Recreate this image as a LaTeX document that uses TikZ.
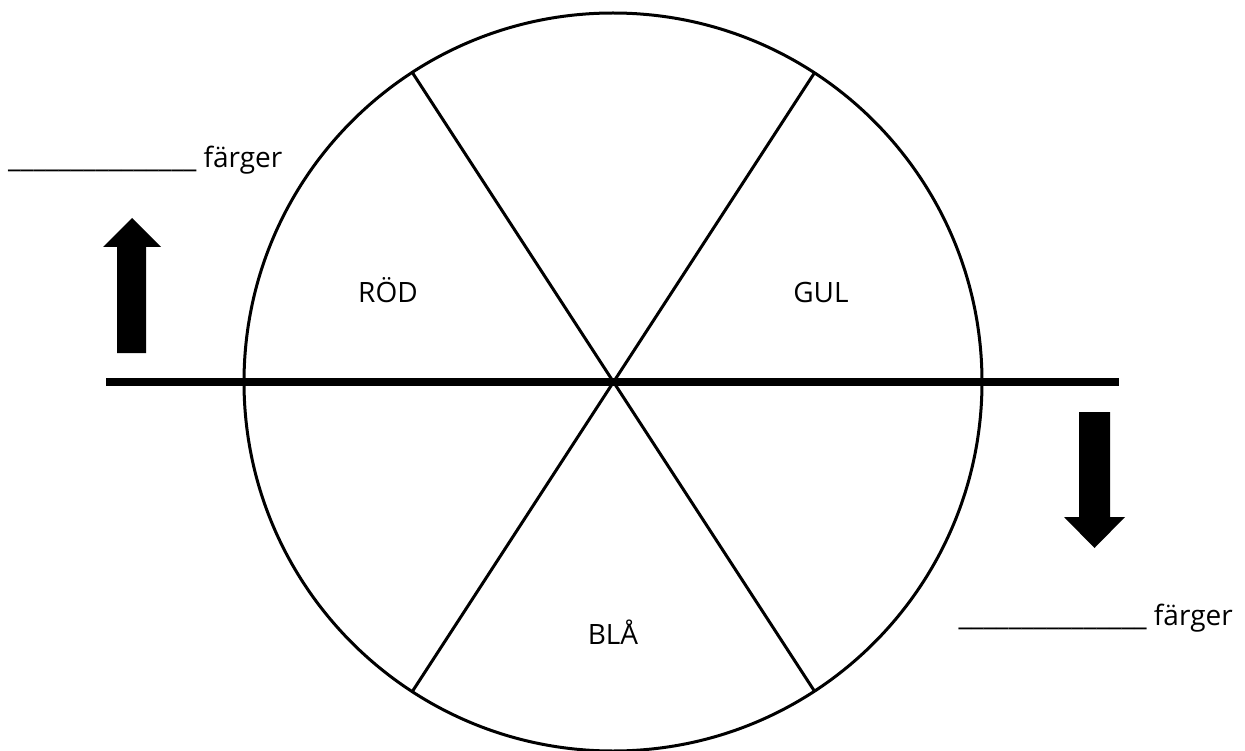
\documentclass[tikz,border=0pt]{standalone}
\usepackage{fontspec}
\setmainfont{Open Sans}
\begin{document}
\begin{tikzpicture}[x=1pt,y=-1pt,
  lbl/.style={font=\fontsize{28}{32}\selectfont, inner sep=0pt},
  thin line/.style={line width=3pt},
  thick line/.style={line width=8pt},
  blockarrow/.style={fill=black, draw=none}]
\useasboundingbox (0,0) rectangle (1245,751);
\coordinate (O) at (613,382);
\draw[thin line] (O) circle (369pt);
\coordinate (tl) at (412,72);
\coordinate (tr) at (815,72);
\coordinate (bl) at (412,692);
\coordinate (br) at (815,692);
\draw[thin line] (tl) -- (br);
\draw[thin line] (tr) -- (bl);
\coordinate (hl) at (106,382);
\coordinate (hr) at (1119,382);
\draw[thick line] (hl) -- (hr);
% up arrow
\fill[blockarrow] (117,353) -- (117,247) -- (103,247) -- (132,218) -- (161,247) -- (146,247) -- (146,353) -- cycle;
% down arrow
\fill[blockarrow] (1079,412) -- (1110,412) -- (1110,517) -- (1125,517) -- (1094.5,548) -- (1064,517) -- (1079,517) -- cycle;
\node[lbl, anchor=base] (rod) at (388,303) {RÖD};
\node[lbl, anchor=base] (gul) at (821,303) {GUL};
\node[lbl, anchor=base] (bla) at (613,644) {BLÅ};
\node[lbl, anchor=base west] (f1) at (8,168) {\_\_\_\_\_\_\_\_\_\_\_\_\_\_\_ färger};
\node[lbl, anchor=base east] (f2) at (1233,625) {\_\_\_\_\_\_\_\_\_\_\_\_\_\_\_ färger};
\end{tikzpicture}
\end{document}
